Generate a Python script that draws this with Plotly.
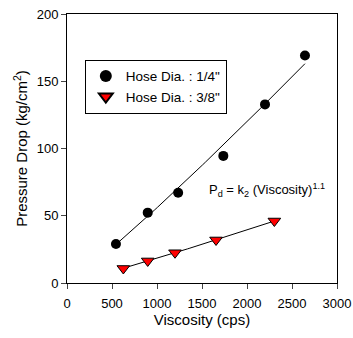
import numpy as np
import plotly.graph_objects as go

# Data
visc_14 = [544, 897, 1235, 1737, 2200, 2644]
pd_14 = [29.0, 52.3, 67.1, 94.5, 132.8, 169.2]
visc_38 = [626, 897, 1200, 1656, 2304]
pd_38 = [10.8, 16.4, 22.5, 32.0, 46.1]
x_ticks = [0, 500, 1000, 1500, 2000, 2500, 3000]
y_ticks = [0, 50, 100, 150, 200]
exponent = 1.1


def fit_curve(v, p):
    v = np.asarray(v, float)
    p = np.asarray(p, float)
    k = np.sum(p * v ** exponent) / np.sum(v ** (2 * exponent))
    xs = np.linspace(v.min(), v.max(), 60)
    return xs, k * xs ** exponent


fig = go.Figure()
for v, p in [(visc_14, pd_14), (visc_38, pd_38)]:
    xs, ys = fit_curve(v, p)
    fig.add_trace(go.Scatter(x=xs, y=ys, mode="lines", line=dict(color="black", width=1),
                             showlegend=False, hoverinfo="skip"))

fig.add_trace(go.Scatter(x=visc_14, y=pd_14, mode="markers", name='Hose Dia. : 1/4"',
                         marker=dict(symbol="circle", size=10, color="black")))
fig.add_trace(go.Scatter(x=visc_38, y=pd_38, mode="markers", name='Hose Dia. : 3/8"',
                         marker=dict(symbol="triangle-down", size=11, color="red",
                                     line=dict(color="black", width=1))))

font = dict(family="Liberation Sans, Arial, sans-serif", size=13, color="black")
fig.update_layout(
    width=353, height=338,
    margin=dict(l=67, r=16, t=14, b=55),
    paper_bgcolor="white", plot_bgcolor="white",
    font=font,
    showlegend=True,
    legend=dict(x=0.066, y=0.83, xanchor="left", yanchor="top",
                bordercolor="black", borderwidth=1, bgcolor="white",
                font=dict(size=13.5), itemsizing="constant", tracegroupgap=0),
    xaxis=dict(range=[0, 3000], tickvals=x_ticks, ticks="outside", ticklen=5,
               showline=True, linecolor="black", linewidth=1, mirror=True,
               showgrid=False, zeroline=False, automargin=False,
               tickfont=dict(size=13), ticklabelstandoff=3,
               title=dict(text="Viscosity (cps)", font=dict(size=15), standoff=2)),
    yaxis=dict(range=[0, 200], tickvals=y_ticks, ticks="outside", ticklen=5,
               showline=True, linecolor="black", linewidth=1, mirror=True,
               showgrid=False, zeroline=False, automargin=False,
               tickfont=dict(size=13),
               title=dict(text="Pressure Drop (kg/cm<sup>2</sup>)", font=dict(size=15), standoff=5)),
    annotations=[dict(x=1550, y=69, xref="x", yref="y", xanchor="left", yanchor="middle",
                      text="P<sub>d</sub> = k<sub>2</sub> (Viscosity)<sup>1.1</sup>",
                      showarrow=False, font=dict(size=13))],
)

fig.write_html("out.html", config={"displayModeBar": False},
               post_script="document.body.style.margin='0';document.body.style.overflow='hidden';")
